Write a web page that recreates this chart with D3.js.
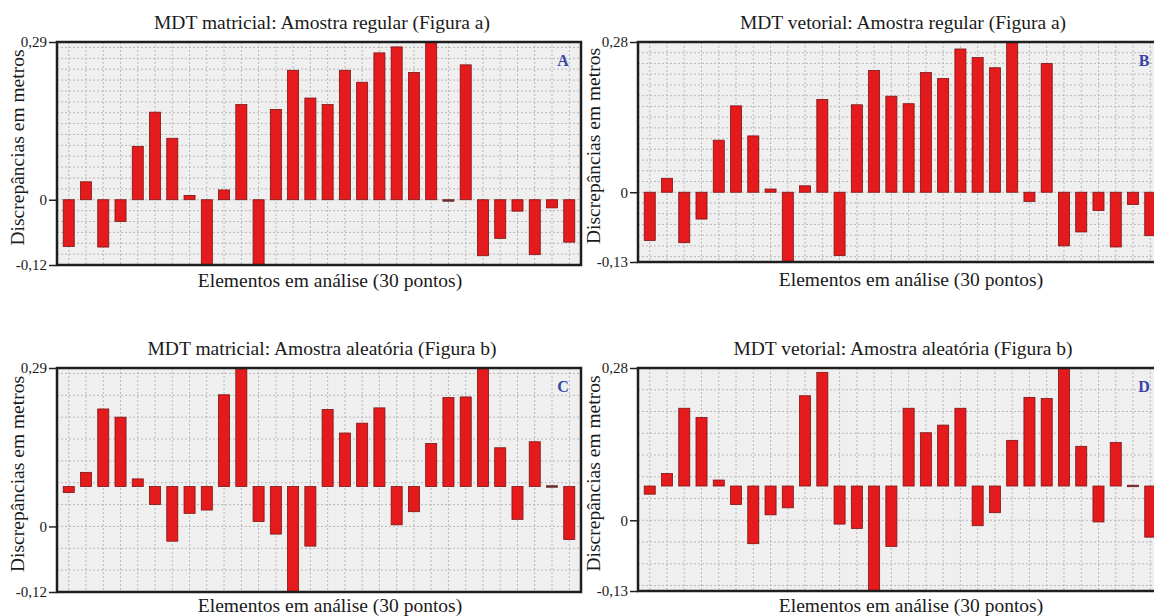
<!DOCTYPE html>
<html>
<head>
<meta charset="utf-8">
<script src="https://cdn.jsdelivr.net/npm/d3@7"></script>
<style>
  body { margin: 0; background: #fff; }
  svg text { font-family: "Liberation Serif", "Times New Roman", "DejaVu Serif", serif; fill: #1a1a1a; }
  .grid line { stroke: #b8b8b8; stroke-dasharray: 2,2; stroke-width: 1; }
  .axis .domain { display: none; }
  .axis line { stroke: #222; stroke-width: 1.5; }
  .axis text { font-size: 15px; font-family: "Liberation Serif", "Times New Roman", serif; }
</style>
</head>
<body>
<svg id="chart" width="1154" height="616" font-family="Liberation Serif, Times New Roman, serif"></svg>
<script>
// titles of the four panels
let titles = ['MDT matricial: Amostra regular (Figura a)',
              'MDT vetorial: Amostra regular (Figura a)',
              'MDT matricial: Amostra aleatória (Figura b)',
              'MDT vetorial: Amostra aleatória (Figura b)'];
let letters = ['A', 'B', 'C', 'D'];
let points = d3.range(1, 31);

// y domains (min, max) as printed on the axes
let domA = [-0.12, 0.29];
let domB = [-0.13, 0.28];
let domC = [-0.12, 0.29];
let domD = [-0.13, 0.28];

// level where bars start (C and D bars do not start at the 0 tick)
let baseA = 0, baseB = 0, baseC = 0.073, baseD = 0.063;

// bar ends read in axis units
let valA = [-0.086, 0.033, -0.087, -0.040, 0.098, 0.161, 0.113, 0.008, -0.125, 0.018,
            0.175, -0.125, 0.166, 0.238, 0.187, 0.175, 0.238, 0.216, 0.270, 0.281,
            0.234, 0.295, -0.002, 0.248, -0.103, -0.071, -0.021, -0.101, -0.015, -0.078];
let valB = [-0.090, 0.026, -0.094, -0.050, 0.097, 0.161, 0.105, 0.006, -0.135, 0.012,
            0.173, -0.118, 0.163, 0.227, 0.179, 0.165, 0.223, 0.212, 0.267, 0.251,
            0.232, 0.285, -0.017, 0.240, -0.100, -0.074, -0.034, -0.102, -0.023, -0.081];
let valC = [0.062, 0.099, 0.215, 0.200, 0.087, 0.040, -0.027, 0.024, 0.030, 0.241,
            0.295, 0.009, -0.014, -0.125, -0.036, 0.214, 0.171, 0.189, 0.217, 0.003,
            0.027, 0.152, 0.236, 0.237, 0.295, 0.144, 0.013, 0.155, 0.0745, -0.024];
let valD = [0.048, 0.086, 0.206, 0.189, 0.074, 0.029, -0.043, 0.010, 0.023, 0.229,
            0.272, -0.007, -0.015, -0.135, -0.048, 0.206, 0.161, 0.175, 0.206, -0.010,
            0.014, 0.147, 0.226, 0.224, 0.285, 0.136, -0.003, 0.143, 0.0645, -0.031];

let panels = [
  {left: 57,  top: 42,  w: 524, h: 223, dom: domA, base: baseA, vals: valA, step: 0.02, xt: 22},
  {left: 638, top: 42,  w: 524, h: 220, dom: domB, base: baseB, vals: valB, step: 0.02, xt: 24},
  {left: 57,  top: 368, w: 524, h: 224, dom: domC, base: baseC, vals: valC, step: 0.04, xt: 20},
  {left: 638, top: 368, w: 524, h: 223, dom: domD, base: baseD, vals: valD, step: 0.04, xt: 21}
];

let locale = d3.formatLocale({decimal: ',', thousands: '.', grouping: [3], currency: ['', ''], minus: '-'});
let fmt = d => d === 0 ? '0' : locale.format('.2f')(d);

let svg = d3.select('#chart');

panels.forEach((p, i) => {
  let g = svg.append('g').attr('transform', `translate(${p.left},${p.top})`);
  let xScale = d3.scaleBand().domain(points).range([0, p.w]).padding(0.36);
  let yScale = d3.scaleLinear().domain(p.dom).range([p.h, 0]);

  g.append('defs').append('clipPath').attr('id', 'clip' + i)
    .append('rect').attr('width', p.w).attr('height', p.h);

  // plot background
  g.append('rect').attr('width', p.w).attr('height', p.h).attr('fill', '#efefef');

  // grid
  let hv = [];
  for (let v = 0; v <= p.dom[1]; v += p.step) hv.push(v);
  for (let v = -p.step; v >= p.dom[0]; v -= p.step) hv.push(v);
  let grid = g.append('g').attr('class', 'grid');
  grid.selectAll('.h').data(hv).enter().append('line').attr('class', 'h')
    .attr('x1', 0).attr('x2', p.w)
    .attr('y1', d => yScale(d)).attr('y2', d => yScale(d));
  grid.selectAll('.v').data(points).enter().append('line').attr('class', 'v')
    .attr('x1', d => xScale(d) + xScale.bandwidth() / 2)
    .attr('x2', d => xScale(d) + xScale.bandwidth() / 2)
    .attr('y1', 0).attr('y2', p.h);

  // bars
  g.append('g').attr('clip-path', `url(#clip${i})`)
    .selectAll('rect').data(p.vals).enter().append('rect')
    .attr('x', (d, j) => xScale(points[j]))
    .attr('width', xScale.bandwidth())
    .attr('y', d => yScale(Math.max(d, p.base)))
    .attr('height', d => Math.max(1.5, Math.abs(yScale(d) - yScale(p.base))))
    .attr('fill', d => Math.abs(d - p.base) < 0.003 ? '#444' : '#e41a1c')
    .attr('stroke', '#7d1414').attr('stroke-width', 0.8);

  // frame
  g.append('rect').attr('width', p.w).attr('height', p.h)
    .attr('fill', 'none').attr('stroke', '#1e1e1e').attr('stroke-width', 2.5);

  // y axis
  g.append('g').attr('class', 'axis')
    .call(d3.axisLeft(yScale).tickValues([p.dom[0], 0, p.dom[1]]).tickSize(8).tickPadding(2).tickFormat(fmt));

  // letter
  g.append('text').attr('x', p.w - 18).attr('y', 24).attr('text-anchor', 'middle')
    .attr('font-size', '16px').attr('font-weight', 'bold').style('fill', '#3b43a8')
    .text(letters[i]);

  // title
  g.append('text').attr('x', 265).attr('y', -13).attr('text-anchor', 'middle')
    .attr('font-size', '19.5px').text(titles[i]);

  // x axis title
  g.append('text').attr('x', 273).attr('y', p.h + p.xt).attr('text-anchor', 'middle')
    .attr('font-size', '19.5px').text('Elementos em análise (30 pontos)');

  // y axis title
  g.append('text').attr('transform', `translate(${-p.left + (i % 2 ? p.left - 38 : 24)},${p.h / 2 - 6}) rotate(-90)`)
    .attr('text-anchor', 'middle').attr('font-size', '19.5px').text('Discrepâncias em metros');
});
</script>
</body>
</html>
